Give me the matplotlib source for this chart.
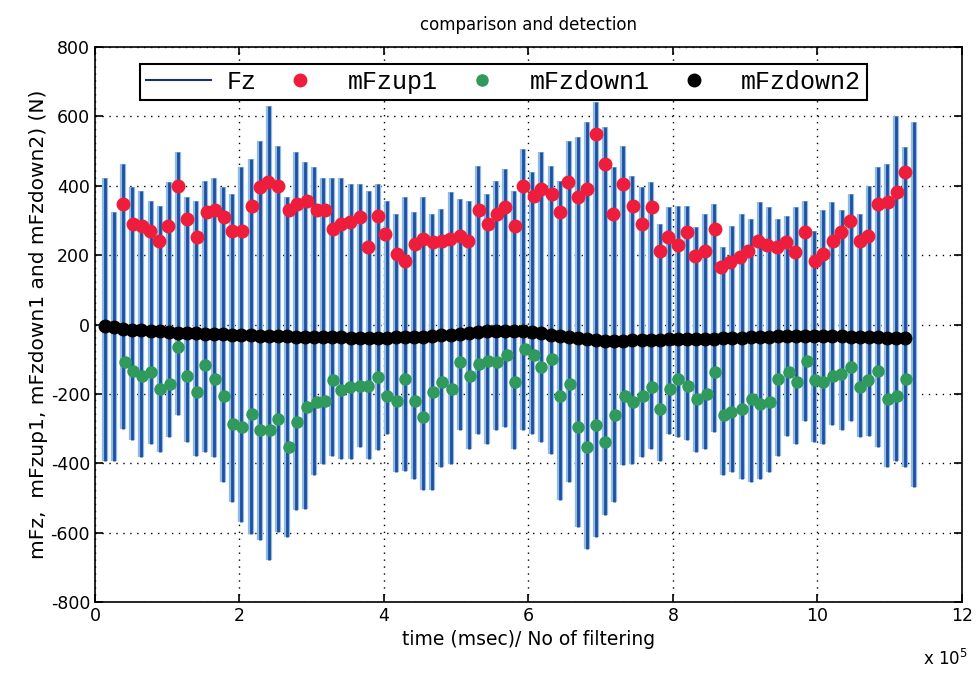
import numpy as np
import matplotlib
matplotlib.use("Agg")
import matplotlib.pyplot as plt
from matplotlib.ticker import FuncFormatter, MultipleLocator

plt.rcParams["axes.unicode_minus"] = False

## Data, x in units of 1e5 msec
# Fz spikes: peak top and bottom of each cycle
fz_top = [424, 324, 463, 396, 386, 357, 343, 410, 497, 367, 357, 415, 424, 396, 377, 453,
          477, 530, 631, 516, 367, 497, 468, 453, 424, 424, 424, 405, 405, 386, 405, 357,
          319, 367, 324, 367, 319, 333, 381, 362, 357, 458, 377, 415, 449, 386, 506, 439,
          497, 458, 415, 530, 540, 583, 641, 569, 453, 516, 429, 396, 410, 290, 338,
          343, 343, 280, 319, 348, 223, 285, 319, 305, 352, 338, 305, 314, 338, 357, 271,
          329, 352, 329, 377, 319, 400, 453, 463, 602, 511, 583]
fz_bottom = [-392, -392, -301, -334, -382, -344, -368, -325, -262, -339, -378, -368, -382, -454, -512, -570,
             -603, -622, -680, -598, -613, -536, -531, -435, -401, -378, -387, -387, -354, -387, -363, -315,
             -426, -421, -445, -478, -478, -411, -401, -305, -358, -315, -344, -305, -296, -358, -305, -315,
             -339, -373, -507, -454, -584, -646, -613, -550, -512, -406, -401, -382, -358, -392, -315, -325,
             -334, -368, -358, -310, -435, -426, -445, -454, -445, -426, -378, -320, -344, -277, -339,
             -344, -291, -305, -277, -325, -320, -354, -411, -392, -411, -469]

up1_x = [0.39, 0.53, 0.65, 0.76, 0.88, 1.01, 1.15, 1.27, 1.41, 1.55, 1.66, 1.78, 1.89, 2.03, 2.17,
         2.28, 2.40, 2.54, 2.68, 2.79, 2.93, 3.07, 3.18, 3.30, 3.41, 3.53, 3.67, 3.78, 3.92, 4.01,
         4.18, 4.29, 4.43, 4.54, 4.68, 4.80, 4.91, 5.05, 5.17, 5.31, 5.44, 5.56, 5.67, 5.81, 5.93,
         6.07, 6.18, 6.32, 6.44, 6.55, 6.69, 6.81, 6.94, 7.06, 7.17, 7.31, 7.45, 7.57, 7.71, 7.82,
         7.93, 8.07, 8.19, 8.30, 8.44, 8.58, 8.67, 8.79, 8.93, 9.04, 9.18, 9.30, 9.44, 9.57, 9.69,
         9.83, 9.97, 10.08, 10.22, 10.33, 10.45, 10.59, 10.70, 10.84, 10.98, 11.10, 11.21]
up1_y = [348, 290, 285, 271, 242, 285, 400, 305, 252, 324, 329, 309, 271, 271, 343,
         396, 410, 400, 329, 348, 357, 329, 329, 276, 290, 295, 309, 223, 314, 261,
         204, 184, 233, 247, 237, 242, 247, 256, 242, 329, 290, 319, 338, 285, 400,
         372, 391, 377, 324, 410, 367, 391, 550, 463, 319, 405, 343, 290, 338, 213,
         252, 228, 266, 199, 213, 276, 165, 180, 194, 213, 242, 228, 223, 237, 208,
         266, 184, 204, 242, 266, 300, 242, 256, 348, 352, 381, 439]

down1_x = [0.42, 0.53, 0.65, 0.78, 0.90, 1.04, 1.15, 1.27, 1.41, 1.52, 1.66, 1.78, 1.91, 2.03, 2.17,
           2.28, 2.42, 2.54, 2.68, 2.79, 2.93, 3.07, 3.18, 3.30, 3.41, 3.53, 3.67, 3.78, 3.92, 4.04,
           4.18, 4.29, 4.43, 4.54, 4.68, 4.80, 4.94, 5.05, 5.19, 5.31, 5.44, 5.56, 5.70, 5.81, 5.95,
           6.07, 6.18, 6.32, 6.44, 6.57, 6.69, 6.81, 6.94, 7.06, 7.20, 7.34, 7.45, 7.59, 7.71, 7.82,
           7.96, 8.07, 8.21, 8.33, 8.47, 8.58, 8.70, 8.81, 8.95, 9.09, 9.20, 9.34, 9.46, 9.60, 9.71,
           9.85, 9.97, 10.08, 10.22, 10.33, 10.47, 10.59, 10.70, 10.84, 10.98, 11.10, 11.23]
down1_y = [-109, -133, -147, -137, -185, -171, -65, -147, -195, -118, -156, -205, -286, -296, -257,
           -305, -305, -272, -354, -281, -238, -224, -219, -161, -190, -181, -176, -176, -152, -205,
           -219, -156, -219, -267, -195, -166, -185, -109, -147, -113, -104, -109, -89, -166, -70,
           -89, -123, -99, -205, -171, -296, -354, -291, -339, -262, -205, -224, -205, -181, -243,
           -185, -156, -176, -214, -200, -137, -262, -253, -243, -214, -229, -224, -156, -137, -166,
           -104, -161, -166, -147, -142, -123, -181, -161, -133, -214, -205, -156]

down2_y = [-5, -8, -12, -15, -17, -19, -20, -22, -23, -24, -25, -26, -27, -28, -29, -30,
           -31, -32, -33, -33, -34, -35, -35, -36, -36, -37, -37, -38, -38, -38, -38, -38,
           -37, -37, -36, -35, -33, -31, -29, -27, -24, -21, -19, -18, -18, -19, -20, -22,
           -25, -29, -33, -37, -40, -43, -45, -46, -46, -46, -45, -45, -44, -44, -43, -43,
           -42, -42, -41, -41, -40, -39, -38, -37, -36, -35, -34, -33, -32, -32, -32, -32,
           -33, -34, -35, -36, -37, -37, -38, -38, -38]

# regularly sampled cycles of the Fz signal
fz_t = np.linspace(0.14, 11.34, len(fz_top)) * 1e5
up1_t = np.array(up1_x) * 1e5
down1_t = np.array(down1_x) * 1e5
down2_t = fz_t[:len(down2_y)]

fig = plt.figure(figsize=(9.77, 6.73), dpi=100)
ax = fig.add_axes([0.0972, 0.1055, 0.8874, 0.8245])

# light halo + dark core for the Fz trace
ax.vlines(fz_t, fz_bottom, fz_top, color="#8fbbe6", linewidth=4.5, zorder=2)
ax.vlines(fz_t, fz_bottom, fz_top, color="#1f4f9c", linewidth=2.0, zorder=2)
ax.plot([], [], color="#1a2f6e", linewidth=1.5, label="Fz")
ax.plot(up1_t, up1_y, "o", color="#ee1d3c", markersize=9, zorder=5, label="mFzup1")
ax.plot(down1_t, down1_y, "o", color="#2f9a5c", markersize=8, zorder=4, label="mFzdown1")
ax.plot(down2_t, down2_y, "o", color="black", markersize=9, zorder=3, label="mFzdown2")

ax.set_xlim(0, 12e5)
ax.set_ylim(-800, 800)
ax.xaxis.set_major_locator(MultipleLocator(2e5))
ax.yaxis.set_major_locator(MultipleLocator(200))
ax.xaxis.set_major_formatter(FuncFormatter(lambda v, p: "%d" % round(v / 1e5)))
ax.grid(True, color="black", linestyle=(0, (1, 4)), linewidth=1.0)
ax.tick_params(direction="in", length=6, width=1.2, labelsize=12.5, top=True, right=True)
for s in ax.spines.values():
    s.set_linewidth(1.2)

ax.set_title("comparison and detection", fontsize=12, pad=12)
ax.set_xlabel("time (msec)/ No of filtering", fontsize=13.5, labelpad=4)
ax.set_ylabel("mFz,  mFzup1, mFzdown1 and mFzdown2) (N)", fontsize=14.5, labelpad=2)
fig.text(0.968, 0.012, r"x 10$^5$", fontsize=12, ha="center")

leg = ax.legend(loc="lower left", bbox_to_anchor=(0.052, 0.904, 0.839, 0.078), mode="expand",
                ncol=4, fancybox=False, framealpha=1, edgecolor="black", borderaxespad=0,
                handlelength=2.6, handletextpad=0.6, columnspacing=0.8, borderpad=0.25,
                prop={"family": "Liberation Mono", "size": 18})
leg.get_frame().set_linewidth(1.5)

fig.savefig("out.png", dpi=100)
